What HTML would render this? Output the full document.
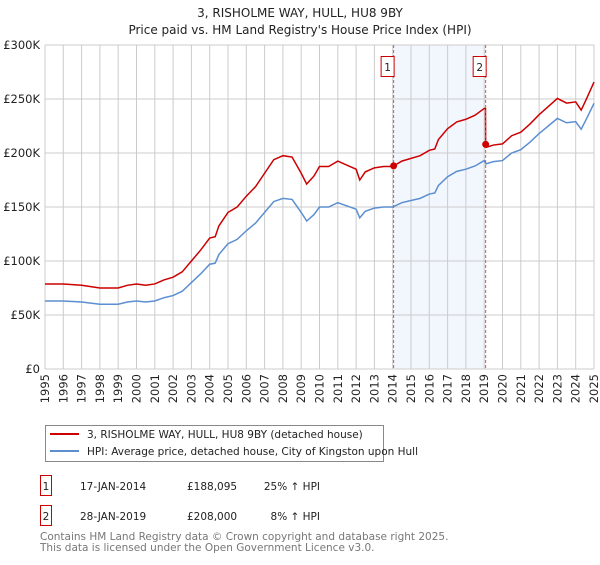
<!DOCTYPE html>
<html><head><meta charset="utf-8">
<style>
body{margin:0;background:#fff;font-family:"Liberation Sans","DejaVu Sans",sans-serif;}
svg text{font-family:"DejaVu Sans","Liberation Sans",sans-serif;}
</style></head>
<body>
<svg id="chart" width="600" height="560" viewBox="0 0 600 560">
<text x="300" y="17" text-anchor="middle" font-size="12" fill="#222">3, RISHOLME WAY, HULL, HU8 9BY</text>
<text x="300" y="34" text-anchor="middle" font-size="12" fill="#222">Price paid vs. HM Land Registry's House Price Index (HPI)</text>
<g id="grid"></g>
<g id="series"></g>
<g id="legend">
<rect x="45.5" y="425.5" width="338" height="36" fill="#fff" stroke="#888"/>
<line x1="50" y1="434" x2="79" y2="434" stroke="#cc0000" stroke-width="2"/>
<text x="87" y="438" font-size="10.5" fill="#222">3, RISHOLME WAY, HULL, HU8 9BY (detached house)</text>
<line x1="50" y1="451" x2="79" y2="451" stroke="#5b8fd0" stroke-width="2"/>
<text x="87" y="455" font-size="10.5" fill="#222">HPI: Average price, detached house, City of Kingston upon Hull</text>
</g>
<g font-size="10.5" fill="#222">
<rect x="40.5" y="475.5" width="11" height="20" fill="none" stroke="#cc0000"/>
<text x="46" y="490" text-anchor="middle">1</text>
<text x="80" y="490">17-JAN-2014</text>
<text x="187" y="490">£188,095</text>
<text x="320" y="490" text-anchor="end">25% ↑ HPI</text>
<rect x="40.5" y="505.5" width="11" height="20" fill="none" stroke="#cc0000"/>
<text x="46" y="520" text-anchor="middle">2</text>
<text x="80" y="520">28-JAN-2019</text>
<text x="187" y="520">£208,000</text>
<text x="320" y="520" text-anchor="end">8% ↑ HPI</text>
</g>
<text x="40" y="540" font-size="10.5" fill="#777">Contains HM Land Registry data © Crown copyright and database right 2025.</text>
<text x="40" y="551" font-size="10.5" fill="#777">This data is licensed under the Open Government Licence v3.0.</text>
</svg>
<script>
const hpiYears=[1995,1996,1997,1997.5,1998,1999,1999.5,2000,2000.5,2001,2001.5,2002,2002.5,2003,2003.5,2004,2004.3,2004.5,2005,2005.5,2006,2006.5,2007,2007.5,2008,2008.5,2009,2009.3,2009.7,2010,2010.5,2011,2011.5,2012,2012.2,2012.5,2013,2013.5,2014,2014.5,2015,2015.5,2016,2016.3,2016.5,2017,2017.5,2018,2018.5,2019,2019.1,2019.5,2020,2020.5,2021,2021.5,2022,2022.5,2023,2023.5,2024,2024.3,2024.6,2025];
const hpiValues=[63,63,62,61,60,60,62,63,62,63,66,68,72,80,88,97,98,106,116,120,128,135,145,155,158,157,145,137,143,150,150,154,151,148,140,146,149,150,150,154,156,158,162,163,170,178,183,185,188,193,190,192,193,200,203,210,218,225,232,228,229,222,232,246];
const saleDates=[2014.05,2019.08];
const salePrices=[188.095,208];
const saleRatios=[1.25,1.08];
const yTicks=[0,50,100,150,200,250,300];
const yTickLabels=["£0","£50K","£100K","£150K","£200K","£250K","£300K"];
const xTicks=[1995,1996,1997,1998,1999,2000,2001,2002,2003,2004,2005,2006,2007,2008,2009,2010,2011,2012,2013,2014,2015,2016,2017,2018,2019,2020,2021,2022,2023,2024,2025];

const X0=45,X1=594,Y0=369,Y1=45;
const xs=y=>X0+(y-1995)/30*(X1-X0);
const ys=v=>Y0-v/300*(Y0-Y1);
const NS="http://www.w3.org/2000/svg";
function mk(tag,attrs,parent){const e=document.createElementNS(NS,tag);for(const k in attrs)e.setAttribute(k,attrs[k]);parent.appendChild(e);return e;}
const grid=document.getElementById('grid'),ser=document.getElementById('series');

const shade=mk('rect',{x:xs(saleDates[0]),y:Y1,width:xs(saleDates[1])-xs(saleDates[0]),height:Y0-Y1,fill:'#f2f6fd'},grid);



yTicks.forEach((t,i)=>{
 const l=mk('line',{x1:X0,x2:X1,y1:ys(t),y2:ys(t),stroke:'#ccc','stroke-width':1},grid);
 
 
 const tx=mk('text',{x:X0-5,y:ys(t)+4,'text-anchor':'end','font-size':11.5,fill:'#222'},grid);
 tx.textContent=yTickLabels[i];
 
 
});
xTicks.forEach(t=>{
 const l=mk('line',{x1:xs(t),x2:xs(t),y1:Y1,y2:Y0,stroke:'#ccc','stroke-width':1},grid);
 
 
 const tx=mk('text',{x:0,y:0,'text-anchor':'end','font-size':11.5,fill:'#222',transform:`translate(${xs(t)+4},${Y0+5}) rotate(-90)`},grid);
 tx.textContent=t;
 
 
});

const hpiPts=hpiYears.map((y,i)=>xs(y)+','+ys(hpiValues[i])).join(' ');
const hp=mk('polyline',{points:hpiPts,fill:'none',stroke:'#5b8fd0','stroke-width':1.5},ser);



const redPts=[];
hpiYears.forEach((y,i)=>{
 if(y<saleDates[1]) redPts.push([y,hpiValues[i]*saleRatios[0]]);
});
redPts.push([saleDates[1]-0.01,redPts[redPts.length-1][1]]);
redPts.push([saleDates[1],salePrices[1]]);
hpiYears.forEach((y,i)=>{if(y>saleDates[1]) redPts.push([y,hpiValues[i]*saleRatios[1]]);});
const rp=mk('polyline',{points:redPts.map(p=>xs(p[0])+','+ys(p[1])).join(' '),fill:'none',stroke:'#cc0000','stroke-width':1.5},ser);



saleDates.forEach((d,i)=>{
 const v=mk('line',{x1:xs(d),x2:xs(d),y1:Y1,y2:Y0,stroke:'#e05050','stroke-width':1,'stroke-dasharray':'3,2'},ser);
 
 
 const c=mk('circle',{cx:xs(d),cy:ys(salePrices[i]),r:3.5,fill:'#cc0000'},ser);
 
 
 const b=mk('rect',{x:xs(d)-12.5,y:56.5,width:13,height:20,fill:'#fff',stroke:'#cc0000'},ser);
 
 
 const t=mk('text',{x:xs(d)-6,y:71,'text-anchor':'middle','font-size':10.5,fill:'#222'},ser);
 t.textContent=String(i+1);
 
 
});
</script>
</body></html>
